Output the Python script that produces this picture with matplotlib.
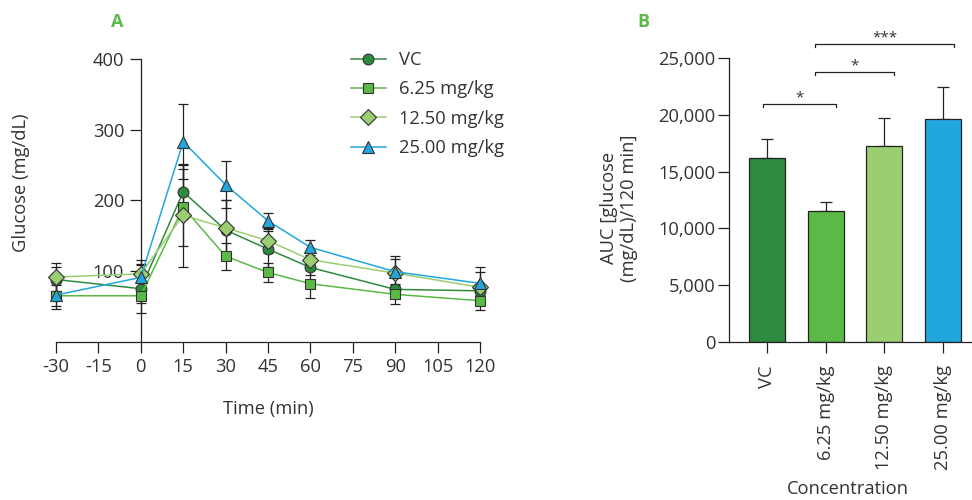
"""Glucose tolerance curves (A) and AUC by concentration (B)."""

import matplotlib
matplotlib.use("Agg")
import matplotlib.pyplot as plt
import numpy as np


# ---- panel A: glucose over time ----
time_min = [-30, 0, 15, 30, 45, 60, 90, 120]
vc_mean = [88, 75, 212, 158, 131, 105, 74, 72]
vc_err = [17, 35, 38, 42, 25, 10, 8, 6]
low_mean = [65, 65, 190, 121, 98, 82, 67, 58]
low_err = [15, 10, 55, 19, 13, 20, 13, 13]
mid_mean = [91.5, 96, 179, 161, 143, 116, 97, 77]
mid_err = [20, 20, 73, 40, 18, 12, 20, 22]
high_mean = [66, 91, 283, 222, 171, 133.5, 99, 82.6]
high_err = [20, 17, 53, 33, 11, 11, 22, 23]
series_labels = ["VC", "6.25 mg/kg", "12.50 mg/kg", "25.00 mg/kg"]

time_ticks = [-30, -15, 0, 15, 30, 45, 60, 75, 90, 105, 120]
time_tick_labels = ["-30", "-15", "0", "15", "30", "45", "60", "75", "90", "105", "120"]
glucose_ticks = [100, 200, 300, 400]

# ---- panel B: AUC ----
conc_labels = ["VC", "6.25 mg/kg", "12.50 mg/kg", "25.00 mg/kg"]
auc_mean = [16200, 11550, 17270, 19650]
auc_err = [1650, 740, 2500, 2800]
auc_ticks = [0, 5000, 10000, 15000, 20000, 25000]
auc_tick_labels = ["0", "5,000", "10,000", "15,000", "20,000", "25,000"]

sig_start = [-0.08, 0.81, 0.81]
sig_end = [1.17, 2.17, 3.2]
sig_level = [21000, 23800, 26300]
sig_text = ["*", "*", "***"]

colors = ["#2E8B3E", "#5AB947", "#9BCE71", "#22A6DE"]
markers = ["o", "s", "D", "^"]
marker_sizes = [7.8, 7.5, 8.6, 9.2]
text_color = "#333333"
axis_color = "#222222"

plt.rcParams["font.family"] = ["Open Sans", "DejaVu Sans"]
plt.rcParams["axes.unicode_minus"] = False
plt.rcParams["font.size"] = 13.2

fig = plt.figure(figsize=(9.72, 5.0), dpi=100)

# panel A
ax_a = fig.add_axes([56 / 972, 1 - 341.7 / 500, 424 / 972, 282.7 / 500])
means = [vc_mean, low_mean, mid_mean, high_mean]
errs = [vc_err, low_err, mid_err, high_err]

for mean, err in zip(means, errs):
    ax_a.errorbar(time_min, mean, yerr=err, fmt="none", ecolor=axis_color,
                  elinewidth=0.9, capsize=3.5, capthick=0.9, zorder=2, clip_on=False)

for i, (mean, label) in enumerate(zip(means, series_labels)):
    ax_a.plot(time_min, mean, color=colors[i], linewidth=1.1, marker=markers[i],
              markersize=marker_sizes[i], markerfacecolor=colors[i],
              markeredgecolor="#333333", markeredgewidth=0.8, label=label,
              zorder=3 + i, clip_on=False)

ax_a.set_xlim(-30, 120)
ax_a.set_ylim(0, 400)
ax_a.set_xticks(time_ticks)
ax_a.set_xticklabels(time_tick_labels)
ax_a.set_yticks(glucose_ticks)
ax_a.spines["left"].set_position(("data", 0))
ax_a.spines["top"].set_visible(False)
ax_a.spines["right"].set_visible(False)
for side in ["left", "bottom"]:
    ax_a.spines[side].set_linewidth(0.9)
    ax_a.spines[side].set_color(axis_color)
ax_a.tick_params(axis="both", direction="out", length=8, width=0.9,
                 color=axis_color, labelcolor=text_color, pad=4)

leg = ax_a.legend(loc="upper left", bbox_to_anchor=(351 / 972, 1 - 51 / 500),
                  bbox_transform=fig.transFigure, frameon=False, handlelength=1.9,
                  handletextpad=0.7, labelspacing=0.62, borderpad=0, borderaxespad=0)
for t in leg.get_texts():
    t.set_color(text_color)

fig.text(21.5 / 972, 1 - 183 / 500, "Glucose (mg/dL)", rotation=90,
         ha="center", va="center", color=text_color)
fig.text(268 / 972, 1 - 409 / 500, "Time (min)", ha="center", va="center",
         color=text_color)

# panel B
ax_b = fig.add_axes([729.3 / 972, 1 - 341.7 / 500, 242.7 / 972, 283.4 / 500])
x_pos = np.arange(len(conc_labels))
ax_b.bar(x_pos, auc_mean, width=0.62, color=colors, edgecolor=axis_color,
         linewidth=0.9, zorder=2)
ax_b.errorbar(x_pos, auc_mean, yerr=[np.zeros(len(auc_err)), auc_err], fmt="none",
              ecolor=axis_color, elinewidth=0.9, capsize=4, capthick=0.9, zorder=1)

ax_b.set_xlim(-0.65, 3.5)
ax_b.set_ylim(0, 25000)
ax_b.set_xticks(x_pos)
ax_b.set_xticklabels(conc_labels, rotation=90)
ax_b.set_yticks(auc_ticks)
ax_b.set_yticklabels(auc_tick_labels)
ax_b.spines["top"].set_visible(False)
ax_b.spines["right"].set_visible(False)
for side in ["left", "bottom"]:
    ax_b.spines[side].set_linewidth(0.9)
    ax_b.spines[side].set_color(axis_color)
ax_b.tick_params(axis="both", direction="out", length=8, width=0.9,
                 color=axis_color, labelcolor=text_color)
ax_b.tick_params(axis="x", pad=9)
ax_b.tick_params(axis="y", pad=2)

tip = 280
for x0, x1, y, s in zip(sig_start, sig_end, sig_level, sig_text):
    ax_b.plot([x0, x0, x1, x1], [y - tip, y, y, y - tip], color=axis_color,
              linewidth=0.9, clip_on=False)
    ax_b.text((x0 + x1) / 2, y - 150, s, ha="center", va="bottom",
              color=text_color, fontsize=11, clip_on=False)

fig.text(619 / 972, 1 - 208 / 500, "AUC [glucose\n(mg/dL)/120 min]", rotation=90,
         ha="center", va="center", multialignment="center", color=text_color)
fig.text(848 / 972, 1 - 489 / 500, "Concentration", ha="center", va="center",
         color=text_color)

fig.text(117 / 972, 1 - 22 / 500, "A", ha="center", va="center", color="#5AB947",
         fontsize=13, fontweight="bold")
fig.text(643 / 972, 1 - 22 / 500, "B", ha="center", va="center", color="#5AB947",
         fontsize=13, fontweight="bold")

fig.savefig("out.png", dpi=100)
